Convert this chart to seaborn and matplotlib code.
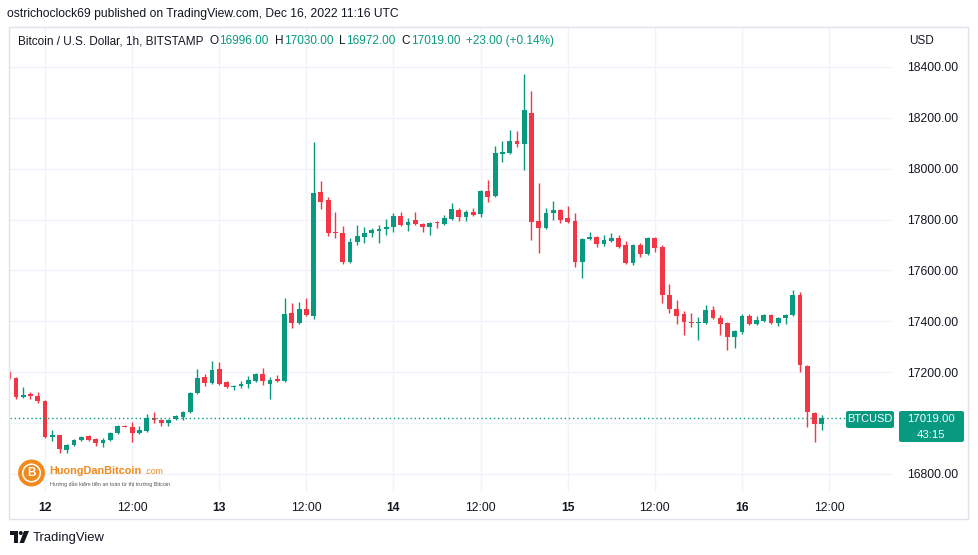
import matplotlib
matplotlib.use("Agg")
import matplotlib.pyplot as plt
import seaborn as sns
import pandas as pd
import numpy as np
from matplotlib.patches import Rectangle, Circle, Polygon, FancyBboxPatch

# ---------------- data (BTCUSD 1h, hours relative to Dec 12 00:00) ----------------
hours = list(range(-5, 108))
opens = [17201, 17177, 17103, 17114, 17107, 17087, 16945, 16953, 16894, 16914,
         16934, 16949, 16938, 16922, 16934, 16961, 16989, 16985, 16961, 16969,
         17020, 17012, 17000, 17016, 17024, 17044, 17118, 17181, 17158, 17213,
         17162, 17142, 17146, 17154, 17166, 17193, 17154, 17174, 17166, 17433,
         17394, 17449, 17421, 17909, 17877, 17751, 17747, 17633, 17712, 17732,
         17747, 17755, 17763, 17771, 17814, 17779, 17798, 17783, 17771, 17790,
         17783, 17802, 17838, 17810, 17830, 17822, 17913, 17893, 18058, 18062,
         18109, 18097, 18219, 17795, 17767, 17826, 17838, 17806, 17795, 17633,
         17724, 17732, 17704, 17716, 17728, 17700, 17629, 17700, 17665, 17728,
         17692, 17504, 17449, 17429, 17398, 17394, 17394, 17445, 17413, 17394,
         17339, 17358, 17421, 17390, 17401, 17425, 17394, 17413, 17425, 17504,
         17225, 17040, 16996]
highs = [17212, 17181, 17142, 17122, 17122, 17090, 16973, 16955, 16918, 16938,
         16950, 16953, 16940, 16942, 16965, 16993, 16991, 17004, 16989, 17036,
         17044, 17016, 17016, 17032, 17048, 17122, 17213, 17193, 17244, 17240,
         17166, 17150, 17166, 17185, 17197, 17217, 17181, 17189, 17492, 17472,
         17476, 17492, 18105, 17952, 17889, 17830, 17775, 17728, 17779, 17771,
         17767, 17779, 17802, 17826, 17830, 17806, 17830, 17787, 17791, 17795,
         17818, 17865, 17846, 17838, 17846, 17916, 17956, 18089, 18109, 18152,
         18148, 18372, 18306, 17944, 17846, 17873, 17842, 17854, 17826, 17728,
         17751, 17736, 17740, 17747, 17740, 17716, 17704, 17708, 17732, 17732,
         17700, 17547, 17484, 17441, 17433, 17417, 17465, 17461, 17425, 17398,
         17366, 17429, 17429, 17421, 17429, 17429, 17417, 17429, 17523, 17516,
         17229, 17044, 17030]
lows = [17168, 17095, 17099, 17095, 17079, 16942, 16930, 16883, 16883, 16910,
        16930, 16930, 16910, 16906, 16930, 16957, 16983, 16926, 16957, 16965,
        17000, 16989, 16989, 17012, 17012, 17040, 17115, 17146, 17154, 17150,
        17138, 17130, 17138, 17138, 17162, 17150, 17095, 17162, 17162, 17374,
        17390, 17421, 17409, 17842, 17736, 17728, 17626, 17630, 17700, 17708,
        17732, 17708, 17740, 17751, 17775, 17755, 17779, 17751, 17740, 17767,
        17779, 17798, 17795, 17795, 17814, 17810, 17869, 17889, 18027, 18058,
        18085, 17995, 17720, 17669, 17763, 17799, 17787, 17787, 17614, 17571,
        17720, 17692, 17696, 17712, 17688, 17626, 17622, 17653, 17661, 17673,
        17472, 17433, 17390, 17346, 17378, 17327, 17390, 17409, 17346, 17288,
        17295, 17350, 17386, 17386, 17398, 17390, 17382, 17390, 17421, 17201,
        16985, 16926, 16972]
closes = [17174, 17103, 17111, 17107, 17087, 16945, 16953, 16898, 16914, 16934,
          16945, 16934, 16922, 16934, 16961, 16989, 16985, 16961, 16973, 17020,
          17012, 17000, 17012, 17028, 17044, 17118, 17177, 17158, 17209, 17154,
          17142, 17146, 17154, 17170, 17193, 17166, 17170, 17166, 17429, 17394,
          17449, 17425, 17905, 17869, 17747, 17747, 17633, 17712, 17736, 17747,
          17759, 17763, 17771, 17814, 17779, 17791, 17783, 17771, 17787, 17787,
          17806, 17842, 17810, 17830, 17818, 17913, 17889, 18062, 18066, 18109,
          18097, 18231, 17791, 17767, 17826, 17838, 17799, 17791, 17633, 17724,
          17732, 17704, 17720, 17728, 17692, 17629, 17700, 17665, 17728, 17688,
          17504, 17449, 17421, 17398, 17394, 17398, 17445, 17413, 17390, 17339,
          17362, 17421, 17390, 17405, 17425, 17394, 17413, 17425, 17504, 17229,
          17044, 16997, 17019]

time_ticks = [0, 12, 24, 36, 48, 60, 72, 84, 96, 108]
time_labels = ["12", "12:00", "13", "12:00", "14", "12:00", "15", "12:00", "16", "12:00"]
price_ticks = [16800, 17000, 17200, 17400, 17600, 17800, 18000, 18200, 18400]

last_close = closes[-1]
# the axis label hidden under the last-price box in the reference is left blank
price_labels = ["" if abs(p - last_close) < 60 else f"{p}.00" for p in price_ticks]
header = "ostrichoclock69 published on TradingView.com, Dec 16, 2022 11:16 UTC"
symbol = "Bitcoin / U.S. Dollar, 1h, BITSTAMP"

# ---------------- style ----------------
sns.set_theme(style="white")
plt.rcParams['font.family'] = ['Liberation Sans', 'DejaVu Sans']

GREEN = "#089981"
RED = "#F23645"
TXT = "#131722"
GRID = "#f0f3fa"
BORDER = "#e0e3eb"

W, H = 979, 555
fig = plt.figure(figsize=(W / 100, H / 100), dpi=100)
fig.patch.set_facecolor("white")


def fx(x):
    return x / W


def fy(y):
    return 1 - y / H


ax = fig.add_axes([fx(10), fy(492), (893 - 10) / W, (492 - 28) / H])
ax.set_facecolor("white")

df = pd.DataFrame(dict(hour=hours, open=opens, high=highs, low=lows, close=closes))
df["up"] = df["close"] >= df["open"]
df["color"] = np.where(df["up"], GREEN, RED)
df["bottom"] = df[["open", "close"]].min(axis=1)
df["height"] = (df["close"] - df["open"]).abs().clip(lower=4)

ax.set_axisbelow(True)
ax.grid(True, color=GRID, lw=1)

ax.vlines(df["hour"], df["low"], df["high"], colors=df["color"], lw=1.0, zorder=2)
ax.bar(df["hour"], df["height"], bottom=df["bottom"], width=0.66,
       color=df["color"], linewidth=0, zorder=3)

ax.axhline(last_close, xmin=0, xmax=(845 - 10) / 883, color=GREEN, lw=1,
           ls=(0, (1, 2)), zorder=4)

ax.set_xlim(-4.82, 116.8)
ax.set_ylim(16729, 18553)

ax.set_xticks(time_ticks)
ax.set_xticklabels(time_labels)
ax.yaxis.tick_right()
ax.set_yticks(price_ticks)
ax.set_yticklabels(price_labels)
ax.tick_params(axis="y", length=0, pad=10, labelsize=8.7, labelcolor=TXT)
ax.tick_params(axis="x", length=0, pad=7, labelsize=8.7, labelcolor=TXT)
for lab in ax.get_xticklabels():
    if ":" not in lab.get_text():
        lab.set_fontweight("bold")
for s in ax.spines.values():
    s.set_visible(False)

# ---------------- frame ----------------
fig.add_artist(Rectangle((fx(9), fy(519)), (968 - 9) / W, (519 - 27) / H,
                         transform=fig.transFigure, fill=False, ec=BORDER, lw=1))

# ---------------- header & legend ----------------
fig.text(fx(7), fy(14), header, fontsize=8.7, color=TXT, va="center", ha="left")
renderer = fig.canvas.get_renderer()


def chain(pieces, x0, y, size):
    x = x0
    for txt, color, gap in pieces:
        t = fig.text(fx(x), fy(y), txt, color=color, fontsize=size, va="center", ha="left")
        bb = t.get_window_extent(renderer)
        x = x + bb.width + gap


chain([
    (symbol, TXT, 6.5),
    ("O", TXT, 0.5), (f"{opens[-1]}.00", GREEN, 6),
    ("H", TXT, 0.5), (f"{highs[-1]}.00", GREEN, 6),
    ("L", TXT, 0.5), (f"{lows[-1]}.00", GREEN, 6),
    ("C", TXT, 0.5), (f"{closes[-1]}.00", GREEN, 6),
    (f"+{closes[-1] - opens[-1]}.00 (+0.14%)", GREEN, 0),
], 18, 41, 8.45)

fig.text(fx(909), fy(41), "USD", fontsize=8.5, color=TXT, va="center", ha="left")

# ---------------- last price labels ----------------
fig.add_artist(FancyBboxPatch((fx(846), fy(428)), (894 - 846) / W, (428 - 411) / H,
                              boxstyle="round,pad=0,rounding_size=0.003",
                              transform=fig.transFigure, fc=GREEN, ec="none"))
fig.text(fx(870), fy(419.5), "BTCUSD", fontsize=7.9, color="white", va="center", ha="center")
fig.add_artist(FancyBboxPatch((fx(899), fy(442)), (964 - 899) / W, (442 - 411) / H,
                              boxstyle="round,pad=0,rounding_size=0.003",
                              transform=fig.transFigure, fc=GREEN, ec="none"))
fig.text(fx(931), fy(418.5), f"{last_close}.00", fontsize=8.2, color="white", va="center", ha="center")
fig.text(fx(931), fy(435), "43:15", fontsize=8.2, color="white", va="center", ha="center")

# ---------------- watermark ----------------
ORANGE = "#F08A1C"
inch = fig.dpi_scale_trans
cx, cy = 31.5 / 100, (555 - 473) / 100
fig.add_artist(Circle((cx, cy), 0.115, transform=inch, fill=False, ec=ORANGE, lw=2.8))
fig.add_artist(Circle((cx, cy), 0.08, transform=inch, fc=ORANGE, ec="none"))
fig.text(fx(31.5), fy(473.5), "B", fontsize=8.5, fontweight="bold", color="white",
         va="center", ha="center")
fig.text(fx(49), fy(471), "HuongDanBitcoin", fontsize=7.8, fontweight="bold",
         color=ORANGE, va="center", ha="left")
fig.text(fx(144), fy(472), ".com", fontsize=6.3, color=ORANGE, va="center", ha="left")
fig.text(fx(50), fy(484), "Hướng dẫn kiếm tiền an toàn từ thị trường Bitcoin", fontsize=3.9,
         color="#555555", va="center", ha="left")

# ---------------- TradingView footer ----------------
fig.add_artist(Polygon([(fx(10), fy(531)), (fx(18), fy(531)), (fx(18), fy(543)),
                        (fx(14), fy(543)), (fx(14), fy(535)), (fx(10), fy(535))],
                       closed=True, transform=fig.transFigure, fc=TXT, ec="none"))
fig.add_artist(Circle((20.8 / 100, (555 - 533) / 100), 0.02, transform=inch, fc=TXT, ec="none"))
fig.add_artist(Polygon([(fx(24), fy(531)), (fx(29), fy(531)), (fx(24), fy(543)), (fx(19.5), fy(543))],
                       closed=True, transform=fig.transFigure, fc=TXT, ec="none"))
fig.text(fx(33), fy(537.5), "TradingView", fontsize=9.4, color=TXT, va="center", ha="left")

fig.savefig("out.png", dpi=100, facecolor="white")
